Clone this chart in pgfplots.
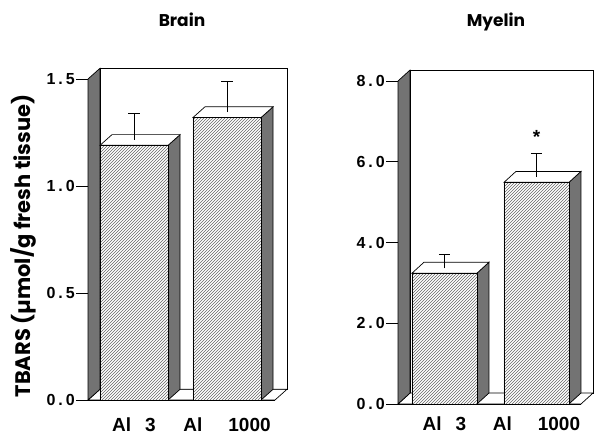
\documentclass[border=0pt]{standalone}
\usepackage{pgfplots}
\pgfplotsset{compat=1.18}
\usetikzlibrary{patterns}
\usepackage{fontspec}
\setmainfont{Liberation Sans}
\newfontfamily\pop{Poppins}
\newcommand{\tl}[2]{#1\kern3pt.\kern3pt#2}
\begin{document}
\begin{tikzpicture}
\useasboundingbox (0pt,0pt) rectangle (594pt,436pt);
\pgfplotsset{
  panel/.style={scale only axis, clip=false, anchor=south west,
    axis x line*=bottom, axis y line*=left,
    axis line style={line width=0.8pt, -},
    tick align=outside, major tick length=12pt,
    xtick={1,2}, xtick style={draw=none},
    ytick style={line width=0.8pt, black},
    yticklabel style={font=\bfseries\fontsize{16}{16}\selectfont, inner sep=1pt},
    xticklabels={Al\hspace{14pt}3, Al\hspace{26pt}1000},
  },
  front/.style={draw=black, line width=0.7pt, fill=white, postaction={pattern=north east lines, pattern color=black!60}},
  side/.style={draw=black, line width=0.7pt, fill=black!55},
  topf/.style={draw=black, line width=0.7pt, fill=white},
  errl/.style={black, line width=0.7pt, mark=none},
}
% ---------------- Brain ----------------
\begin{axis}[panel, at={(88pt,36pt)}, width=187pt, height=321pt,
  xmin=0.505, xmax=2.516, ymin=0, ymax=1.5,
  xticklabel style={font=\bfseries\fontsize{19}{19}\selectfont, anchor=base, yshift=-19pt},
  ytick={0,0.5,1,1.5}, yticklabels={\tl00,\tl05,\tl10,\tl15}]
\addplot[topf] coordinates {(0.634,0.05) (0.634,1.55) (2.645,1.55) (2.645,0.05)} -- cycle;
\addplot[topf] coordinates {(0.505,0) (0.634,0.05) (2.645,0.05) (2.516,0)} -- cycle;
\addplot[side] coordinates {(0.505,0) (0.505,1.5) (0.634,1.55) (0.634,0.05)} -- cycle;
% bar 1
\addplot[side] coordinates {(1.366,0) (1.495,0.05) (1.495,1.24) (1.366,1.19)} -- cycle;
\addplot[topf] coordinates {(0.634,1.19) (0.763,1.24) (1.495,1.24) (1.366,1.19)} -- cycle;
\addplot[front] coordinates {(0.634,0) (0.634,1.19) (1.366,1.19) (1.366,0)} -- cycle;
% bar 2
\addplot[side] coordinates {(2.366,0) (2.495,0.05) (2.495,1.37) (2.366,1.32)} -- cycle;
\addplot[topf] coordinates {(1.634,1.32) (1.763,1.37) (2.495,1.37) (2.366,1.32)} -- cycle;
\addplot[front] coordinates {(1.634,0) (1.634,1.32) (2.366,1.32) (2.366,0)} -- cycle;
% error bars
\addplot[errl] coordinates {(1,1.215) (1,1.34)};
\addplot[errl] coordinates {(0.94,1.34) (1.06,1.34)};
\addplot[errl] coordinates {(2,1.345) (2,1.49)};
\addplot[errl] coordinates {(1.94,1.49) (2.06,1.49)};
\end{axis}
% ---------------- Myelin ----------------
\begin{axis}[panel, at={(398pt,32pt)}, width=183pt, height=323pt,
  xmin=0.495, xmax=2.484, ymin=0, ymax=8,
  xticklabel style={font=\bfseries\fontsize{19}{19}\selectfont, anchor=base, yshift=-15pt},
  ytick={0,2,4,6,8}, yticklabels={\tl00,\tl20,\tl40,\tl60,\tl80}]
\addplot[topf] coordinates {(0.625,0.27) (0.625,8.27) (2.614,8.27) (2.614,0.27)} -- cycle;
\addplot[topf] coordinates {(0.495,0) (0.625,0.27) (2.614,0.27) (2.484,0)} -- cycle;
\addplot[side] coordinates {(0.495,0) (0.495,8) (0.625,8.27) (0.625,0.27)} -- cycle;
% bar 1
\addplot[side] coordinates {(1.353,0) (1.483,0.27) (1.483,3.51) (1.353,3.24)} -- cycle;
\addplot[topf] coordinates {(0.647,3.24) (0.777,3.51) (1.483,3.51) (1.353,3.24)} -- cycle;
\addplot[front] coordinates {(0.647,0) (0.647,3.24) (1.353,3.24) (1.353,0)} -- cycle;
% bar 2
\addplot[side] coordinates {(2.353,0) (2.483,0.27) (2.483,5.76) (2.353,5.49)} -- cycle;
\addplot[topf] coordinates {(1.647,5.49) (1.777,5.76) (2.483,5.76) (2.353,5.49)} -- cycle;
\addplot[front] coordinates {(1.647,0) (1.647,5.49) (2.353,5.49) (2.353,0)} -- cycle;
% error bars
\addplot[errl] coordinates {(1,3.36) (1,3.70)};
\addplot[errl] coordinates {(0.94,3.70) (1.06,3.70)};
\addplot[errl] coordinates {(2,5.62) (2,6.20)};
\addplot[errl] coordinates {(1.94,6.20) (2.06,6.20)};
\node[font=\bfseries\fontsize{19}{19}\selectfont] at (axis cs:2,6.62) {*};
\end{axis}
% titles and y label
\node[anchor=base, font=\pop\bfseries\fontsize{17}{17}\selectfont] at (182pt,409pt) {Brain};
\node[anchor=base, font=\pop\bfseries\fontsize{17}{17}\selectfont] at (496pt,409pt) {Myelin};
\node[rotate=90, font=\pop\bfseries\fontsize{21}{21}\selectfont] at (23pt,190pt) {TBARS (µmol/g fresh tissue)};
\end{tikzpicture}
\end{document}
